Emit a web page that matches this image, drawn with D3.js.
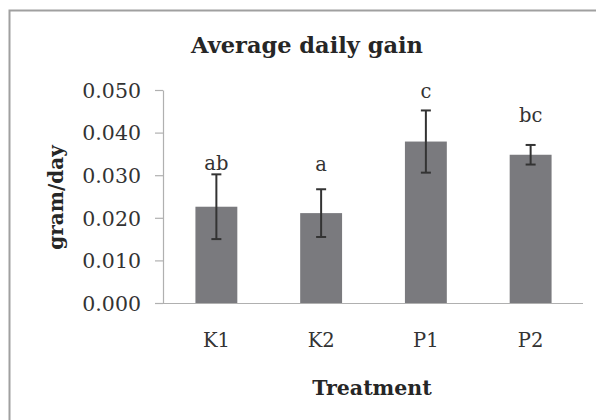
<!DOCTYPE html>
<html>
<head>
<meta charset="utf-8">
<script src="https://cdn.jsdelivr.net/npm/d3@7"></script>
<style>
  html, body { margin: 0; padding: 0; background: #fff; }
  svg { display: block; }
</style>
</head>
<body>
<svg id="chart" width="596" height="420"></svg>
<script>
const categories = ["K1", "K2", "P1", "P2"];
const meanValues = [0.0226, 0.0211, 0.0379, 0.0348];
const errorValues = [0.0076, 0.0056, 0.0073, 0.0023];
const groupLetters = ["ab", "a", "c", "bc"];
const letterValues = [0.0312, 0.0309, 0.0481, 0.0425];
const yTicks = [0, 0.01, 0.02, 0.03, 0.04, 0.05];

const svg = d3.select("#chart");
const font = "'DejaVu Serif', 'Liberation Serif', serif";

// frame (cropped: only left and top edges visible)
svg.append("path")
  .attr("d", "M9.5,420 L9.5,10.5 L596,10.5")
  .attr("fill", "none").attr("stroke", "#a0a0a0").attr("stroke-width", 2);

const x = d3.scaleBand().domain(categories).range([164, 583])
  .paddingInner(0.6).paddingOuter(0.3);
const y = d3.scaleLinear().domain([0, 0.05]).range([303, 90]);

// y axis
const yAxis = svg.append("g").attr("transform", "translate(163,0)")
  .call(d3.axisLeft(y).tickValues(yTicks).tickFormat(d3.format(".3f"))
    .tickSize(8).tickPadding(14).tickSizeOuter(0));
yAxis.select(".domain").attr("stroke", "#b0b0b0").attr("stroke-width", 1.2);
yAxis.selectAll(".tick line").attr("stroke", "#b0b0b0").attr("stroke-width", 1.2);
yAxis.selectAll(".tick text").attr("font-family", font).attr("font-size", 20.5)
  .attr("fill", "#333").attr("dy", "0.36em");

// bars
svg.append("g").selectAll("rect").data(categories).join("rect")
  .attr("x", d => x(d))
  .attr("width", x.bandwidth())
  .attr("y", (d, i) => y(meanValues[i]))
  .attr("height", (d, i) => y(0) - y(meanValues[i]))
  .attr("fill", "#7a7a7e");

// x axis
const xAxis = svg.append("g").attr("transform", "translate(0,303)")
  .call(d3.axisBottom(x).tickSize(0).tickPadding(30).tickSizeOuter(0));
xAxis.select(".domain").attr("stroke", "#b0b0b0").attr("stroke-width", 1.2)
  .attr("d", "M155,0.5H583");
xAxis.selectAll(".tick text").attr("font-family", font).attr("font-size", 19.5)
  .attr("fill", "#333").attr("dy", "0.71em");

// error bars
const eb = svg.append("g").attr("stroke", "#333").attr("stroke-width", 2);
categories.forEach((c, i) => {
  const cx = x(c) + x.bandwidth() / 2;
  const top = y(meanValues[i] + errorValues[i]);
  const bot = y(meanValues[i] - errorValues[i]);
  eb.append("line").attr("x1", cx).attr("x2", cx).attr("y1", top).attr("y2", bot);
  eb.append("line").attr("x1", cx - 5).attr("x2", cx + 5).attr("y1", top).attr("y2", top);
  eb.append("line").attr("x1", cx - 5).attr("x2", cx + 5).attr("y1", bot).attr("y2", bot);
});

// letters
svg.append("g").selectAll("text").data(categories).join("text")
  .attr("x", d => x(d) + x.bandwidth() / 2)
  .attr("y", (d, i) => y(letterValues[i]))
  .attr("text-anchor", "middle")
  .attr("font-family", font).attr("font-size", 19.5).attr("fill", "#333")
  .text((d, i) => groupLetters[i]);

// title
svg.append("text").attr("x", 307).attr("y", 53).attr("text-anchor", "middle")
  .attr("font-family", font).attr("font-weight", "bold").attr("font-size", 22.5)
  .attr("fill", "#262626").text("Average daily gain");

// axis titles
svg.append("text").attr("x", 372).attr("y", 395).attr("text-anchor", "middle")
  .attr("font-family", font).attr("font-weight", "bold").attr("font-size", 20.5)
  .attr("fill", "#262626").text("Treatment");

svg.append("text").attr("transform", "translate(63,197.5) rotate(-90)")
  .attr("text-anchor", "middle")
  .attr("font-family", font).attr("font-weight", "bold").attr("font-size", 20)
  .attr("fill", "#262626").text("gram/day");
</script>
</body>
</html>
